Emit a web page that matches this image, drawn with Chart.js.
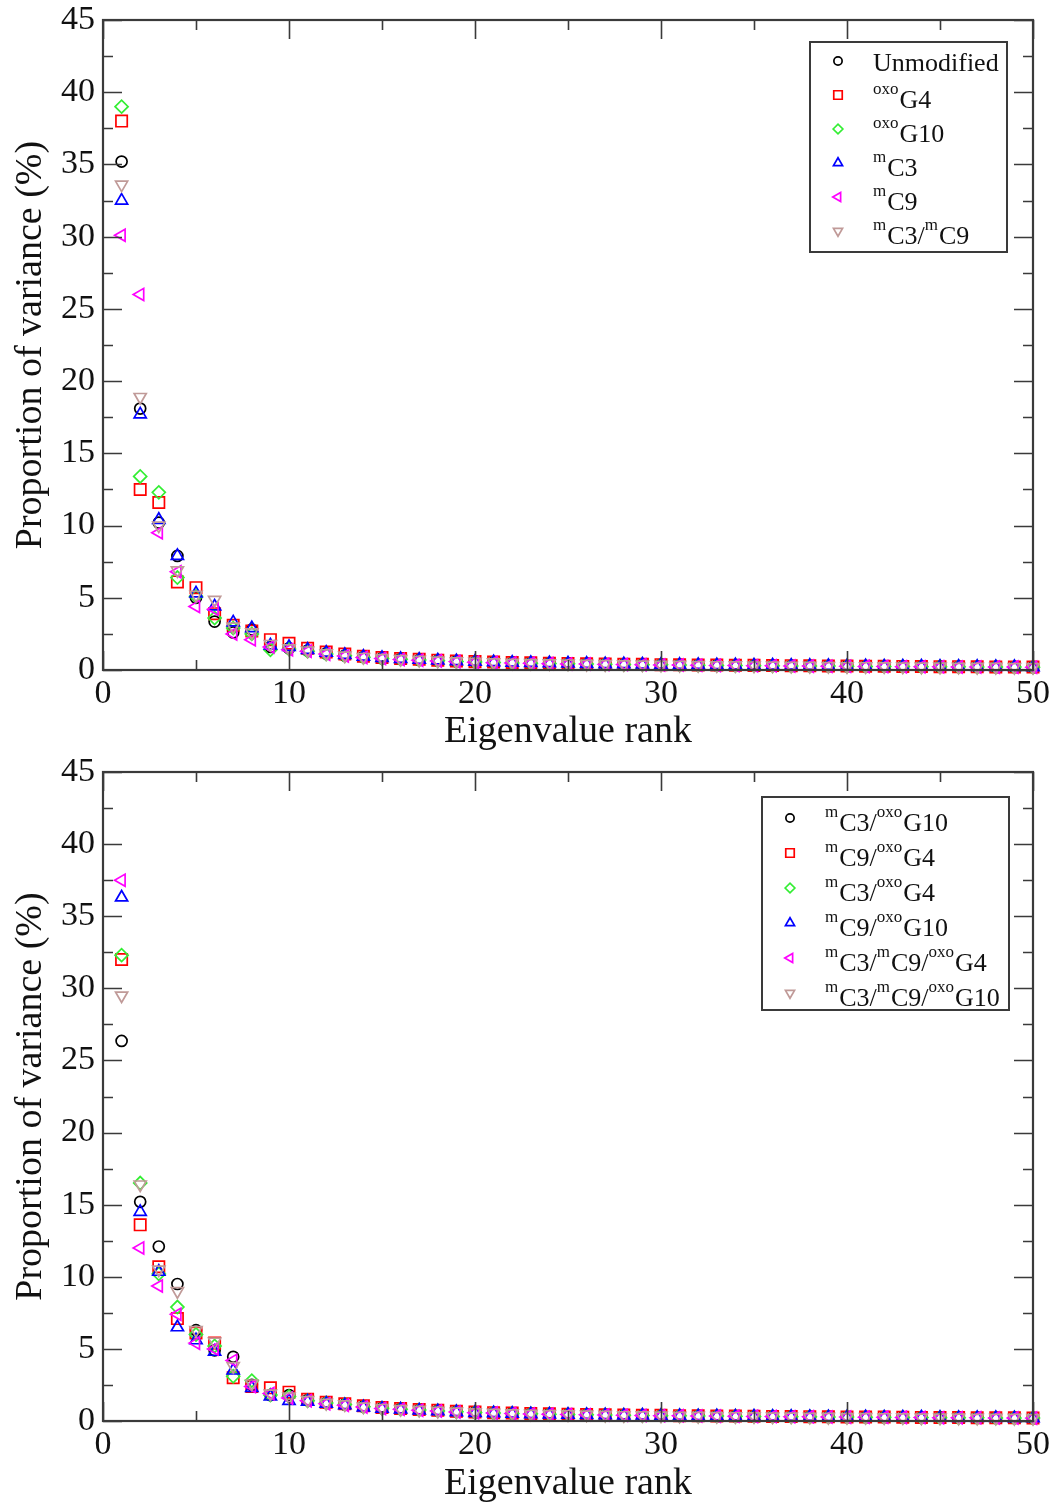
<!DOCTYPE html>
<html>
<head>
<meta charset="utf-8">
<script src="https://cdn.jsdelivr.net/npm/chart.js@4.4.1/dist/chart.umd.min.js"></script>
<style>
  body { margin: 0; background: #fff; }
  canvas { display: block; }
</style>
</head>
<body>
<canvas id="topChart" width="1055" height="752"></canvas>
<canvas id="bottomChart" width="1055" height="752"></canvas>
<script>
// --- Data: proportion of variance (%) per eigenvalue rank ---
const ranks = Array.from({ length: 50 }, (_, i) => i + 1);

const topLabels = ["Unmodified", "^{oxo}G4", "^{oxo}G10", "^{m}C3", "^{m}C9", "^{m}C3/^{m}C9"];
const topUnmodified = [35.2, 18.1, 10.2, 7.9, 5.0, 3.35, 2.6, 2.8, 1.6, 1.5, 1.35, 1.15, 1.0, 0.9, 0.82, 0.76, 0.7, 0.65, 0.6, 0.56, 0.53, 0.5, 0.48, 0.46, 0.44, 0.42, 0.41, 0.39, 0.38, 0.37, 0.35, 0.34, 0.33, 0.32, 0.31, 0.3, 0.29, 0.28, 0.27, 0.27, 0.26, 0.25, 0.24, 0.24, 0.23, 0.22, 0.22, 0.21, 0.2, 0.2];
const topOxoG4 = [38.0, 12.5, 11.6, 6.1, 5.7, 3.9, 3.1, 2.7, 2.1, 1.85, 1.5, 1.25, 1.1, 0.95, 0.86, 0.8, 0.74, 0.68, 0.63, 0.58, 0.55, 0.52, 0.5, 0.47, 0.45, 0.43, 0.42, 0.4, 0.39, 0.37, 0.36, 0.35, 0.34, 0.33, 0.32, 0.31, 0.3, 0.29, 0.28, 0.27, 0.26, 0.26, 0.25, 0.24, 0.23, 0.23, 0.22, 0.21, 0.21, 0.2];
const topOxoG10 = [39.0, 13.4, 12.3, 6.4, 5.1, 3.6, 2.9, 2.5, 1.4, 1.45, 1.3, 1.1, 0.98, 0.88, 0.8, 0.74, 0.69, 0.64, 0.59, 0.55, 0.52, 0.49, 0.47, 0.45, 0.43, 0.41, 0.4, 0.38, 0.37, 0.36, 0.34, 0.33, 0.32, 0.31, 0.3, 0.29, 0.28, 0.28, 0.27, 0.26, 0.25, 0.25, 0.24, 0.23, 0.23, 0.22, 0.21, 0.21, 0.2, 0.19];
const topMC3 = [32.5, 17.7, 10.4, 7.9, 5.3, 4.4, 3.3, 2.9, 1.7, 1.6, 1.4, 1.2, 1.05, 0.92, 0.84, 0.77, 0.71, 0.66, 0.61, 0.57, 0.54, 0.51, 0.49, 0.47, 0.45, 0.43, 0.41, 0.4, 0.38, 0.37, 0.36, 0.35, 0.34, 0.33, 0.32, 0.31, 0.3, 0.29, 0.28, 0.27, 0.26, 0.25, 0.25, 0.24, 0.23, 0.23, 0.22, 0.21, 0.21, 0.2];
const topMC9 = [30.1, 26.0, 9.5, 6.8, 4.4, 4.2, 2.5, 2.1, 1.6, 1.4, 1.3, 1.1, 0.97, 0.87, 0.79, 0.73, 0.68, 0.63, 0.58, 0.54, 0.51, 0.49, 0.46, 0.44, 0.42, 0.41, 0.39, 0.38, 0.36, 0.35, 0.34, 0.33, 0.32, 0.31, 0.3, 0.29, 0.28, 0.27, 0.26, 0.26, 0.25, 0.24, 0.23, 0.23, 0.22, 0.21, 0.21, 0.2, 0.2, 0.19];
const topMC3MC9 = [33.6, 18.9, 10.0, 6.9, 5.2, 4.85, 3.0, 2.6, 1.8, 1.5, 1.35, 1.15, 1.0, 0.9, 0.82, 0.75, 0.7, 0.65, 0.6, 0.56, 0.53, 0.5, 0.48, 0.46, 0.44, 0.42, 0.4, 0.39, 0.37, 0.36, 0.35, 0.34, 0.33, 0.32, 0.31, 0.3, 0.29, 0.28, 0.27, 0.26, 0.26, 0.25, 0.24, 0.23, 0.23, 0.22, 0.21, 0.21, 0.2, 0.2];

const bottomLabels = ["^{m}C3/^{oxo}G10", "^{m}C9/^{oxo}G4", "^{m}C3/^{oxo}G4", "^{m}C9/^{oxo}G10", "^{m}C3/^{m}C9/^{oxo}G4", "^{m}C3/^{m}C9/^{oxo}G10"];
const botC3G10 = [26.35, 15.2, 12.1, 9.5, 6.3, 4.9, 4.45, 2.5, 1.8, 1.8, 1.45, 1.25, 1.15, 1.0, 0.9, 0.84, 0.78, 0.72, 0.66, 0.6, 0.56, 0.53, 0.5, 0.48, 0.46, 0.44, 0.42, 0.4, 0.39, 0.37, 0.36, 0.35, 0.34, 0.33, 0.32, 0.31, 0.3, 0.29, 0.28, 0.27, 0.27, 0.26, 0.25, 0.24, 0.24, 0.23, 0.22, 0.22, 0.21, 0.2];
const botC9G4 = [32.0, 13.6, 10.7, 7.1, 6.1, 5.4, 3.0, 2.4, 2.3, 2.0, 1.5, 1.3, 1.2, 1.05, 0.93, 0.86, 0.8, 0.74, 0.68, 0.62, 0.58, 0.55, 0.52, 0.5, 0.47, 0.45, 0.43, 0.42, 0.4, 0.39, 0.37, 0.36, 0.35, 0.34, 0.33, 0.32, 0.31, 0.3, 0.29, 0.28, 0.27, 0.27, 0.26, 0.25, 0.24, 0.24, 0.23, 0.22, 0.22, 0.21];
const botC3G4 = [32.3, 16.5, 10.2, 7.9, 6.0, 5.2, 3.1, 2.8, 1.8, 1.7, 1.4, 1.25, 1.15, 0.98, 0.88, 0.82, 0.76, 0.7, 0.64, 0.59, 0.55, 0.52, 0.5, 0.47, 0.45, 0.43, 0.42, 0.4, 0.38, 0.37, 0.36, 0.35, 0.34, 0.33, 0.32, 0.31, 0.3, 0.29, 0.28, 0.27, 0.26, 0.26, 0.25, 0.24, 0.23, 0.23, 0.22, 0.21, 0.21, 0.2];
const botC9G10 = [36.3, 14.5, 10.35, 6.5, 5.6, 4.8, 3.5, 2.3, 1.7, 1.4, 1.35, 1.2, 1.1, 0.95, 0.86, 0.8, 0.74, 0.68, 0.62, 0.57, 0.54, 0.51, 0.48, 0.46, 0.44, 0.42, 0.41, 0.39, 0.38, 0.36, 0.35, 0.34, 0.33, 0.32, 0.31, 0.3, 0.29, 0.28, 0.27, 0.27, 0.26, 0.25, 0.24, 0.24, 0.23, 0.22, 0.22, 0.21, 0.2, 0.2];
const botC3C9G4 = [37.5, 12.0, 9.36, 7.4, 5.4, 5.0, 4.2, 2.4, 1.9, 1.6, 1.4, 1.2, 1.1, 0.97, 0.87, 0.81, 0.75, 0.69, 0.63, 0.58, 0.55, 0.52, 0.49, 0.47, 0.45, 0.43, 0.41, 0.4, 0.38, 0.37, 0.36, 0.35, 0.34, 0.33, 0.32, 0.31, 0.3, 0.29, 0.28, 0.27, 0.26, 0.26, 0.25, 0.24, 0.23, 0.23, 0.22, 0.21, 0.21, 0.2];
const botC3C9G10 = [29.5, 16.4, 10.5, 9.0, 6.3, 5.5, 3.8, 2.6, 1.9, 1.7, 1.45, 1.25, 1.15, 1.0, 0.9, 0.83, 0.77, 0.71, 0.65, 0.6, 0.56, 0.53, 0.5, 0.48, 0.46, 0.44, 0.42, 0.4, 0.39, 0.37, 0.36, 0.35, 0.34, 0.33, 0.32, 0.31, 0.3, 0.29, 0.28, 0.27, 0.27, 0.26, 0.25, 0.24, 0.24, 0.23, 0.22, 0.22, 0.21, 0.2];

const xTicks = [0, 10, 20, 30, 40, 50];
const yTicks = [0, 5, 10, 15, 20, 25, 30, 35, 40, 45];

// --- Marker styles (same order in both panels) ---
const SERIF = '"Liberation Serif", "DejaVu Serif", serif';
const markers = [
    { color: '#000000', style: 'circle',   rot: 0,   r: 5.5 },
    { color: '#ff0000', style: 'rect',     rot: 0,   r: 8 },
    { color: '#33ee33', style: 'rectRot',  rot: 0,   r: 6.5 },
    { color: '#0000ff', style: 'triangle', rot: 0,   r: 7 },
    { color: '#ff00ff', style: 'triangle', rot: -90, r: 7 },
    { color: '#c09a98', style: 'triangle', rot: 180, r: 7 }
];

function makeDatasets(labels, series) {
    return series.map((vals, i) => ({
        label: labels[i],
        data: vals.map((v, k) => ({ x: ranks[k], y: v })),
        showLine: false,
        clip: false,
        pointStyle: markers[i].style,
        rotation: markers[i].rot,
        pointRadius: markers[i].r,
        pointBorderWidth: 1.7,
        pointBorderColor: markers[i].color,
        pointBackgroundColor: 'rgba(0,0,0,0)',
        borderColor: markers[i].color,
        order: series.length - i
    }));
}

// Boxed frame with inward major/minor ticks on all four sides
const framePlugin = {
    id: 'frame',
    afterDatasetsDraw(chart) {
        const { ctx, chartArea: a, scales: { x, y } } = chart;
        ctx.save();
        ctx.strokeStyle = '#3a3a3a';
        ctx.lineWidth = 1.6;
        ctx.beginPath();
        for (let v = 0; v <= 50; v += 5) {
            const px = Math.round(x.getPixelForValue(v)) + 0.5;
            const len = v % 10 === 0 ? 19 : 10;
            ctx.moveTo(px, a.bottom); ctx.lineTo(px, a.bottom - len);
            ctx.moveTo(px, a.top); ctx.lineTo(px, a.top + len);
        }
        for (let v = 0; v <= 45; v += 2.5) {
            const py = Math.round(y.getPixelForValue(v)) + 0.5;
            const len = v % 5 === 0 ? 19 : 10;
            ctx.moveTo(a.left, py); ctx.lineTo(a.left + len, py);
            ctx.moveTo(a.right, py); ctx.lineTo(a.right - len, py);
        }
        ctx.stroke();
        ctx.lineWidth = 2.2;
        ctx.strokeRect(a.left, a.top, a.right - a.left, a.bottom - a.top);
        ctx.restore();
    }
};

// Legend with superscript text, e.g. "^{oxo}G4"
function drawRichText(ctx, str, x, y) {
    const parts = str.match(/\^\{[^}]*\}|[^^]+/g);
    let cx = x;
    parts.forEach(p => {
        if (p.startsWith('^{')) {
            ctx.font = '17px ' + SERIF;
            ctx.fillText(p.slice(2, -1), cx, y - 14);
            cx += ctx.measureText(p.slice(2, -1)).width + 1;
        } else {
            ctx.font = '26px ' + SERIF;
            ctx.fillText(p, cx, y);
            cx += ctx.measureText(p).width;
        }
    });
}

const legendPlugin = {
    id: 'boxLegend',
    afterDraw(chart, args, opts) {
        const ctx = chart.ctx;
        ctx.save();
        ctx.strokeStyle = '#3a3a3a';
        ctx.lineWidth = 2;
        ctx.strokeRect(opts.box[0], opts.box[1], opts.box[2], opts.box[3]);
        ctx.textBaseline = 'alphabetic';
        chart.data.datasets.forEach((ds, i) => {
            const my = opts.y0 + i * opts.step;
            const m = markers[i];
            ctx.strokeStyle = m.color;
            ctx.fillStyle = 'rgba(0,0,0,0)';
            ctx.lineWidth = 1.7;
            Chart.helpers.drawPoint(ctx, {
                pointStyle: m.style, rotation: m.rot, radius: m.r * 0.75, borderWidth: 1.7
            }, opts.mx, my);
            ctx.fillStyle = '#111';
            const hasSup = ds.label.indexOf('^{') >= 0;
            drawRichText(ctx, ds.label, opts.tx, my + (hasSup ? 13 : 10));
        });
        ctx.restore();
    }
};

function makeChart(id, labels, series, legendOpts, xHeight) {
    new Chart(document.getElementById(id), {
        type: 'scatter',
        data: { datasets: makeDatasets(labels, series) },
        options: {
            responsive: false,
            animation: false,
            layout: { padding: { left: 0, right: 22, top: 20, bottom: 0 } },
            plugins: {
                legend: { display: false },
                tooltip: { enabled: false },
                boxLegend: legendOpts
            },
            scales: {
                x: {
                    type: 'linear', min: 0, max: 50,
                    afterBuildTicks: s => { s.ticks = xTicks.map(v => ({ value: v })); },
                    afterFit: s => { s.height = xHeight; s.paddingLeft = 0; s.paddingRight = 0; },
                    grid: { display: false, drawTicks: false },
                    border: { display: false },
                    ticks: { color: '#111', padding: 4, font: { family: SERIF, size: 34 } },
                    title: {
                        display: true, text: 'Eigenvalue rank', color: '#111',
                        font: { family: SERIF, size: 38, lineHeight: 1 },
                        padding: { top: 0, bottom: 1 }
                    }
                },
                y: {
                    min: 0, max: 45,
                    afterBuildTicks: s => { s.ticks = yTicks.map(v => ({ value: v })); },
                    afterFit: s => { s.width = 103; s.paddingTop = 0; s.paddingBottom = 0; },
                    grid: { display: false, drawTicks: false },
                    border: { display: false },
                    ticks: { color: '#111', padding: 8, font: { family: SERIF, size: 34 } },
                    title: {
                        display: true, text: 'Proportion of variance (%)', color: '#111',
                        font: { family: SERIF, size: 38, lineHeight: 1 },
                        padding: { top: 12, bottom: 0 }
                    }
                }
            }
        },
        plugins: [framePlugin, legendPlugin]
    });
}

makeChart('topChart', topLabels,
    [topUnmodified, topOxoG4, topOxoG10, topMC3, topMC9, topMC3MC9],
    { box: [810, 42, 197, 210], mx: 838, tx: 873, y0: 61, step: 34 }, 82);

makeChart('bottomChart', bottomLabels,
    [botC3G10, botC9G4, botC3G4, botC9G10, botC3C9G4, botC3C9G10],
    { box: [762, 45, 247, 213], mx: 790, tx: 825, y0: 66, step: 35 }, 83);
</script>
</body>
</html>
